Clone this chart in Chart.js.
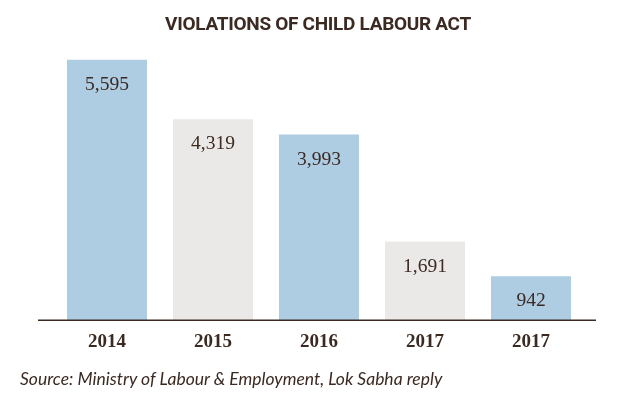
<!DOCTYPE html>
<html>
<head>
<meta charset="utf-8">
<script src="https://cdn.jsdelivr.net/npm/chart.js@4.4.1/dist/chart.umd.min.js"></script>
<style>
    body { margin: 0; background: #fff; }
    .wrap { position: relative; width: 624px; height: 407px; }
    #title {
        position: absolute; left: 0; top: 12px; width: 636px; text-align: center;
        font: bold 19px Roboto, sans-serif; color: #3a2a22; letter-spacing: -0.3px;
    }
    #source {
        position: absolute; left: 20px; top: 368px;
        font: italic 17.5px Lato, sans-serif; color: #3a2a22;
    }
</style>
</head>
<body>
<div class="wrap">
    <canvas id="violationsChart" width="624" height="407"></canvas>
    <div id="title">VIOLATIONS OF CHILD LABOUR ACT</div>
    <div id="source">Source: Ministry of Labour &amp; Employment, Lok Sabha reply</div>
</div>
<script>
const years = ['2014', '2015', '2016', '2017', '2017'];
const violations = [5595, 4319, 3993, 1691, 942];
const barColors = ['#aecce2', '#ebe9e7', '#aecce2', '#ebe9e7', '#aecce2'];

const textColor = '#3a2a22';

// value labels inside the top of each bar
const valueLabels = {
    id: 'valueLabels',
    afterDatasetsDraw(chart) {
        const ctx = chart.ctx;
        const meta = chart.getDatasetMeta(0);
        ctx.save();
        ctx.font = '19.5px "Liberation Serif", serif';
        ctx.fillStyle = textColor;
        ctx.textAlign = 'center';
        ctx.textBaseline = 'middle';
        meta.data.forEach((bar, i) => {
            ctx.fillText(violations[i].toLocaleString('en-US'), bar.x, bar.y + 25);
        });
        ctx.restore();
    }
};

// baseline runs wider than the bars
const baseline = {
    id: 'baseline',
    afterDraw(chart) {
        const ctx = chart.ctx;
        const y = chart.scales.y.getPixelForValue(0);
        ctx.save();
        ctx.strokeStyle = textColor;
        ctx.lineWidth = 1.5;
        ctx.beginPath();
        ctx.moveTo(chart.chartArea.left - 16, y);
        ctx.lineTo(chart.chartArea.right + 12, y);
        ctx.stroke();
        ctx.restore();
    }
};

new Chart(document.getElementById('violationsChart').getContext('2d'), {
    type: 'bar',
    data: {
        labels: years,
        datasets: [{
            data: violations,
            backgroundColor: barColors,
            barPercentage: 0.755,
            categoryPercentage: 1
        }]
    },
    options: {
        responsive: false,
        animation: false,
        layout: { padding: { left: 54, right: 40, top: 41, bottom: 44 } },
        plugins: {
            legend: { display: false },
            tooltip: { enabled: false }
        },
        scales: {
            x: {
                grid: { display: false, drawTicks: false },
                border: { display: false },
                ticks: {
                    padding: 10,
                    color: textColor,
                    font: { family: '"Liberation Serif", serif', size: 19, weight: 'bold' }
                }
            },
            y: {
                display: false,
                min: 0,
                max: 6000
            }
        }
    },
    plugins: [valueLabels, baseline]
});
</script>
</body>
</html>
